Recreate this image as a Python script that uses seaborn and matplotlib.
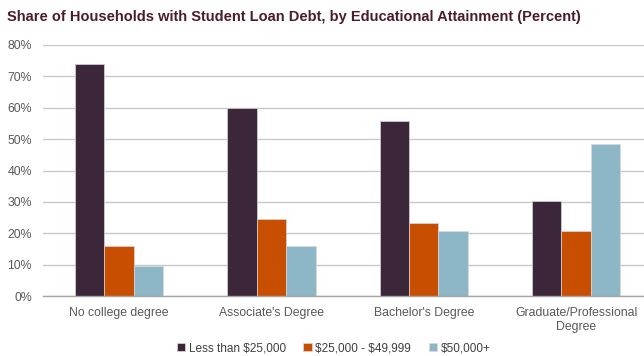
import matplotlib
matplotlib.use("Agg")
import matplotlib.pyplot as plt
import seaborn as sns
import pandas as pd

categories = ["No college degree", "Associate's Degree", "Bachelor's Degree",
              "Graduate/Professional\nDegree"]
income_groups = [r"Less than \$25,000", r"\$25,000 - \$49,999", r"\$50,000+"]
less_than_25k = [74.1, 59.9, 55.7, 30.4]
from_25k_to_50k = [15.9, 24.4, 23.3, 20.6]
over_50k = [9.6, 15.8, 20.7, 48.4]
y_ticks = [0, 10, 20, 30, 40, 50, 60, 70, 80]
colors = ["#3C2639", "#C84F02", "#8DB7C7"]

rows = []
for group, vals in zip(income_groups, [less_than_25k, from_25k_to_50k, over_50k]):
    for cat, v in zip(categories, vals):
        rows.append({"category": cat, "income": group, "share": v})
df = pd.DataFrame(rows)

sns.set_theme(style="white")
plt.rcParams["font.family"] = ["Liberation Sans", "DejaVu Sans"]

fig = plt.figure(figsize=(6.44, 3.56), dpi=100)
ax = fig.add_axes([0.0667, 0.1685, 0.9461, 0.7051])

sns.barplot(data=df, x="category", y="share", hue="income",
            order=categories, hue_order=income_groups, palette=colors,
            width=0.58, edgecolor="#d8d8d8", linewidth=0.5,
            saturation=1, ax=ax)

ax.set_xlim(-0.5, 3.5)
ax.set_ylim(0, 80)
ax.set_yticks(y_ticks)
ax.set_yticklabels([f"{t}%" for t in y_ticks])
ax.yaxis.grid(True, color="#C8C8C8", linewidth=1.0)
ax.set_axisbelow(True)
for s in ["top", "right", "left"]:
    ax.spines[s].set_visible(False)
ax.spines["bottom"].set_color("#A6A6A6")
ax.spines["bottom"].set_linewidth(1.0)
ax.tick_params(axis="both", length=0, labelsize=8.8, labelcolor="#595959")
ax.tick_params(axis="y", pad=8)
ax.tick_params(axis="x", pad=8)
ax.set_xlabel("")
ax.set_ylabel("")

handles, labels = ax.get_legend_handles_labels()
ax.legend_.remove()
fig.legend(handles, labels, loc="center", bbox_to_anchor=(0.518, 0.022),
           ncol=3, frameon=False, fontsize=8.5, handlelength=0.7,
           handleheight=0.7, handletextpad=0.3, columnspacing=1.5,
           labelcolor="#404040")

fig.text(0.011, 0.952, "Share of Households with Student Loan Debt, by Educational Attainment (Percent)",
         fontsize=10.5, fontweight="bold", color="#4B1C2E", ha="left", va="center")

fig.savefig("out.png", dpi=100)
